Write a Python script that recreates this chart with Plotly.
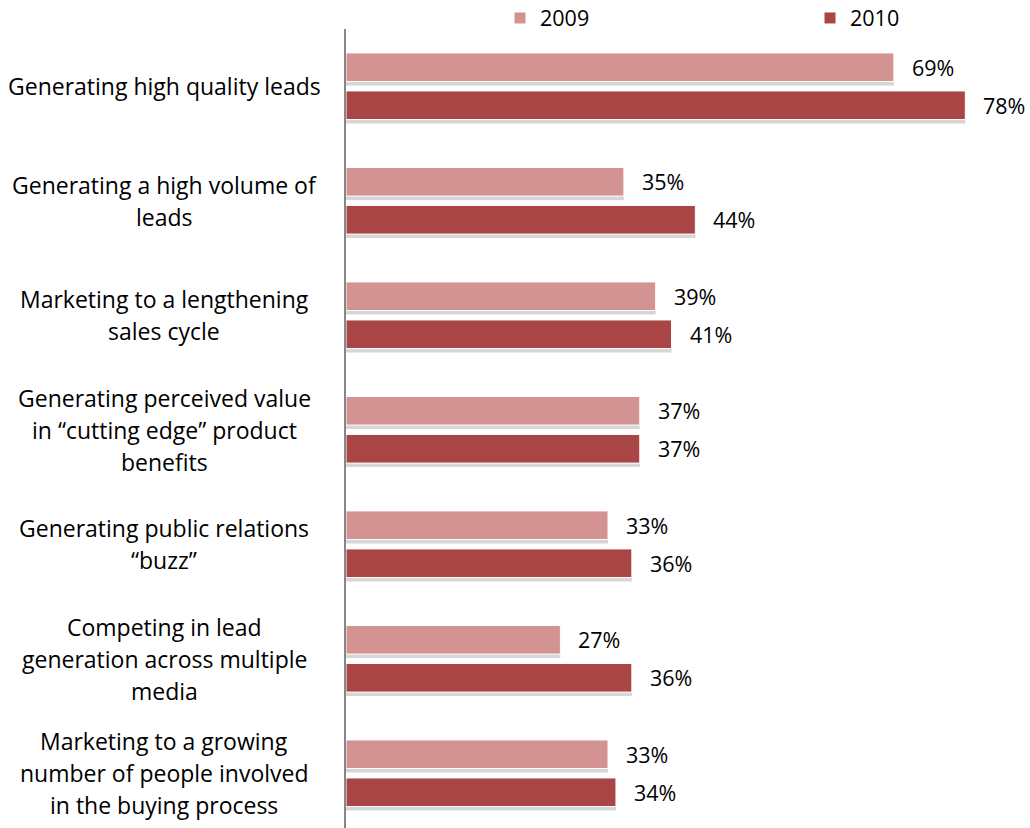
import plotly.graph_objects as go

categories = [
    ["Generating high quality leads"],
    ["Generating a high volume of", "leads"],
    ["Marketing to a lengthening", "sales cycle"],
    ["Generating perceived value", "in \u201ccutting edge\u201d product", "benefits"],
    ["Generating public relations", "\u201cbuzz\u201d"],
    ["Competing in lead", "generation across multiple", "media"],
    ["Marketing to a growing", "number of people involved", "in the buying process"],
]
values_2009 = [69, 35, 39, 37, 33, 27, 33]
values_2010 = [78, 44, 41, 37, 36, 36, 34]
series_names = ["2009", "2010"]

color_2009 = "#D49393"
color_2010 = "#A94545"
font_family = "'Open Sans', Lato, sans-serif"
label_size = 23
value_size = 21.5
text_color = "#000000"

W, H = 1030, 828
ml, mt = 346, 29
px_per_unit_y = 114.5
plot_h = H - mt
y_top = -0.5
y_bottom = y_top + plot_h / px_per_unit_y
px_per_pct = 7.94
x_max = (W - ml) / px_per_pct

idx = list(range(len(categories)))
bar_w = 0.25
half_sep = 0.166
shadow_dy = 4 / px_per_unit_y

fig = go.Figure()

# soft drop shadow beneath each bar
for vals, sign in ((values_2009, -1), (values_2010, 1)):
    fig.add_trace(go.Bar(
        x=vals, y=[i + sign * half_sep + shadow_dy for i in idx],
        orientation="h", width=bar_w,
        marker=dict(color="rgba(0,0,0,0.16)", line=dict(width=0)),
        showlegend=False, hoverinfo="skip",
    ))

legend_ids = ["legend", "legend2"]
for vals, sign, name, col, lg in ((values_2009, -1, series_names[0], color_2009, legend_ids[0]),
                                  (values_2010, 1, series_names[1], color_2010, legend_ids[1])):
    fig.add_trace(go.Bar(
        x=vals, y=[i + sign * half_sep for i in idx],
        orientation="h", width=bar_w, name=name, legend=lg,
        marker=dict(color=col, line=dict(color="#FFFFFF", width=1)),
    ))

annotations = []
# value labels to the right of each bar
for vals, sign in ((values_2009, -1), (values_2010, 1)):
    for i, v in zip(idx, vals):
        annotations.append(dict(
            x=v, y=i + sign * half_sep, xref="x", yref="y",
            text=f"{v}%", showarrow=False, xanchor="left", yanchor="middle",
            xshift=16, font=dict(family=font_family, size=value_size, color=text_color),
        ))

# centred, multi-line category labels
line_gap = 32 / px_per_unit_y
for i, lines in zip(idx, categories):
    n = len(lines)
    for k, line in enumerate(lines):
        annotations.append(dict(
            x=0, y=i + (k - (n - 1) / 2) * line_gap, xref="paper", yref="y",
            text=line, showarrow=False, xanchor="center", yanchor="middle",
            xshift=-(ml - 164), font=dict(family=font_family, size=label_size, color=text_color),
        ))

legend_common = dict(
    orientation="h", yref="container", y=1 - 18 / H, yanchor="middle", xref="container",
    xanchor="left", font=dict(family=font_family, size=value_size, color=text_color),
    itemclick=False, bgcolor="rgba(0,0,0,0)", itemwidth=30,
)

fig.update_layout(
    width=W, height=H,
    margin=dict(l=ml, r=0, t=mt, b=0, autoexpand=False),
    paper_bgcolor="white", plot_bgcolor="white",
    barmode="overlay",
    showlegend=True,
    legend=dict(legend_common, x=500 / W),
    legend2=dict(legend_common, x=810 / W),
    xaxis=dict(range=[0, x_max], showgrid=False, zeroline=False,
               showticklabels=False, showline=False, fixedrange=True),
    yaxis=dict(range=[y_bottom, y_top], showgrid=False, zeroline=False,
               showticklabels=False, showline=True, linecolor="#878787",
               linewidth=2, fixedrange=True),
    annotations=annotations,
    font=dict(family=font_family),
)

fig.write_html("out.html")
